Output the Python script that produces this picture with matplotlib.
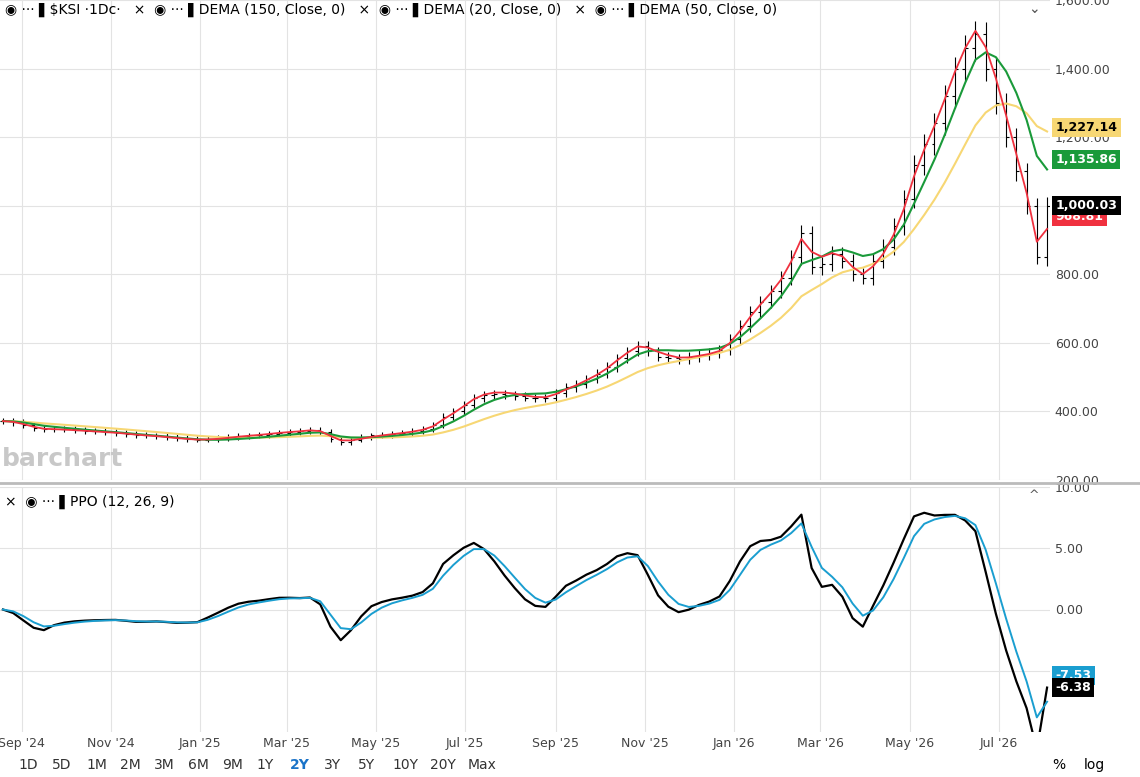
import matplotlib
matplotlib.use("Agg")
import matplotlib.pyplot as plt
import matplotlib.dates as mdates
import pandas as pd

closes = [372, 368,
          360, 352, 348, 350,
          348, 346, 344, 342,
          340, 338, 335, 332, 330,
          328, 325, 322, 320,
          318, 320, 322, 325,
          328, 330, 332, 335,
          338, 340, 342, 345, 340,
          320, 310, 318, 325,
          330, 332, 335, 338,
          342, 348, 360, 385, 400,
          420, 440, 448, 450,
          448, 445, 440, 438,
          440, 455, 470, 480, 495,
          510, 530, 555, 575,
          590, 575, 560, 555,
          552, 558, 565, 570, 580,
          610, 650, 690, 720,
          750, 790, 850, 920,
          820, 830, 860, 840, 800,
          790, 840, 880, 940,
          1020, 1120, 1180, 1240,
          1320, 1400, 1460, 1500,
          1400, 1300, 1200, 1100, 1000,
          850, 1000]
wick_frac = 0.025
start = "2024-08-19"
dates = pd.date_range(start, periods=len(closes), freq="W-MON")
s = pd.Series(closes, index=dates, dtype=float)

def dema(x, n):
    e = x.ewm(span=n, adjust=False).mean()
    return 2 * e - e.ewm(span=n, adjust=False).mean()

d20, d50, d150 = dema(s, 4), dema(s, 12), dema(s, 30)
ppo = (s.ewm(span=2.4, adjust=False).mean() / s.ewm(span=5.2, adjust=False).mean() - 1) * 100
sig = ppo.ewm(span=2.8, adjust=False).mean()

fig = plt.figure(figsize=(11.4, 7.77), dpi=100)
ax = fig.add_axes([0, 1 - 480 / 777, 1050 / 1140, 480 / 777])
ax2 = fig.add_axes([0, 1 - 732 / 777, 1050 / 1140, 245 / 777], sharex=ax)

opens = [closes[0]] + closes[:-1]
for d, o, c in zip(dates, opens, closes):
    w = wick_frac * c
    ax.vlines(d, min(o, c) - w, max(o, c) + w, color="black", lw=0.8)
    ax.hlines(o, d - pd.Timedelta(days=2), d, color="black", lw=0.8)
    ax.hlines(c, d, d + pd.Timedelta(days=2), color="black", lw=0.8)
ax.plot(dates, d150, color="#f7d774", lw=1.5)
ax.plot(dates, d50, color="#1a9a3a", lw=1.5)
ax.plot(dates, d20, color="#f0313f", lw=1.3)
ax.set_ylim(200, 1600)
ax.set_yticks(range(200, 1601, 200))
ax.yaxis.tick_right()
ax.set_yticklabels([f"{v:,.2f}" for v in range(200, 1601, 200)], fontsize=9, color="#444")
ax.set_xlim(pd.Timestamp("2024-08-17"), pd.Timestamp("2026-08-05"))
for a in (ax, ax2):
    a.grid(color="#e3e3e3", lw=0.8)
    a.tick_params(length=0)
    for sp in a.spines.values():
        sp.set_visible(False)
plt.setp(ax.get_xticklabels(), visible=False)

ax2.plot(dates, ppo, color="black", lw=1.6)
ax2.plot(dates, sig, color="#1a9ed0", lw=1.4)
ax2.set_ylim(-10, 10)
ax2.set_yticks([-5, 0, 5, 10])
ax2.yaxis.tick_right()
ax2.set_yticklabels(["-5.00", "0.00", "5.00", "10.00"], fontsize=9, color="#444")
ax2.xaxis.set_major_locator(mdates.MonthLocator(bymonth=[1, 3, 5, 7, 9, 11]))
ax2.xaxis.set_major_formatter(mdates.DateFormatter("%b '%y"))
ax2.tick_params(axis="x", labelsize=9, colors="#444")

def box(a, y, txt, fc, tc="white"):
    a.annotate(txt, (1.0, y), xycoords=("axes fraction", "data"), xytext=(4, 0),
               textcoords="offset points", va="center", fontsize=9, color=tc, fontweight="bold",
               bbox=dict(boxstyle="square,pad=0.25", fc=fc, ec="none"), annotation_clip=False)
box(ax, 1227.14, "1,227.14", "#f7d774", "black")
box(ax, 1135.86, "1,135.86", "#1a9a3a")
box(ax, 968.81, "968.81", "#f0313f")
box(ax, 1000.03, "1,000.03", "black")
box(ax2, ppo.iloc[-1] + 1, f"{sig.iloc[-1]:.2f}", "#1a9ed0")
box(ax2, ppo.iloc[-1], f"{ppo.iloc[-1]:.2f}", "black")

ax.text(0.005, 0.995, "◉ ··· ▌$KSI ·1Dc·   ×  ◉ ··· ▌DEMA (150, Close, 0)   ×  ◉ ··· ▌DEMA (20, Close, 0)   ×  ◉ ··· ▌DEMA (50, Close, 0)",
        transform=ax.transAxes, va="top", fontsize=10, color="black")
ax.text(0.99, 0.995, "⌄", transform=ax.transAxes, va="top", ha="right", fontsize=10, color="#555")
ax2.text(0.005, 0.97, "×  ◉ ··· ▌PPO (12, 26, 9)", transform=ax2.transAxes, va="top", fontsize=10)
ax2.text(0.99, 0.99, "^", transform=ax2.transAxes, va="top", ha="right", fontsize=9, color="#555")
ax.text(0.002, 0.03, "barchart", transform=ax.transAxes, fontsize=18, color="#c8c8c8", fontweight="bold")
fig.add_artist(plt.Line2D([0, 1], [1 - 483 / 777] * 2, color="#bbb", lw=2))
btns = ["1D", "5D", "1M", "2M", "3M", "6M", "9M", "1Y", "2Y", "3Y", "5Y", "10Y", "20Y", "Max"]
x = 18
for b in btns:
    fig.text(x / 1140, 8 / 777, b, fontsize=10, color="#1a73c8" if b == "2Y" else "#333",
             fontweight="bold" if b == "2Y" else "normal")
    x += 34 if len(b) < 3 else 38
fig.text(1052 / 1140, 8 / 777, "%", fontsize=10)
fig.text(1084 / 1140, 8 / 777, "log", fontsize=10)
fig.savefig("out.png", dpi=100, facecolor="white")
